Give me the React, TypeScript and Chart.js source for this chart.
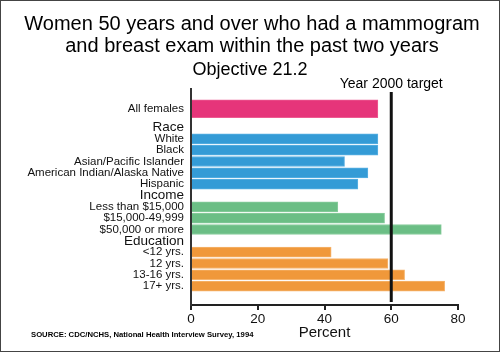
import React, { useEffect, useRef } from "react";
import { Chart, registerables } from "chart.js";

Chart.register(...registerables);

// ---- Data ----
const titleLines = [
  "Women 50 years and over who had a mammogram",
  "and breast exam within the past two years",
];
const subtitle = "Objective 21.2";
const sourceNote = "SOURCE: CDC/NCHS, National Health Interview Survey, 1994";
const targetLabel = "Year 2000 target";
const targetValue = 60;
const xAxisTitle = "Percent";
const xTicks = [0, 20, 40, 60, 80];

const allLabel = "All females";
const allValue = 56;

const groupHeaders = ["Race", "Income", "Education"];
const raceLabels = [
  "White",
  "Black",
  "Asian/Pacific Islander",
  "American Indian/Alaska Native",
  "Hispanic",
];
const raceValues = [56, 56, 46, 53, 50];
const incomeLabels = ["Less than $15,000", "$15,000-49,999", "$50,000 or more"];
const incomeValues = [44, 58, 75];
const educationLabels = ["<12 yrs.", "12 yrs.", "13-16 yrs.", "17+ yrs."];
const educationValues = [42, 59, 64, 76];

// ---- Styling ----
const FONT = "'Liberation Sans', Arial, Helvetica, sans-serif";
const colorAll = "#E6357A";
const colorAllBorder = "#EC5C92";
const groupColors = ["#349BD6", "#6BBE85", "#F0983A"];
const groupBorders = ["#5AB0E2", "#8ACD9E", "#F5B46E"];

export default function App() {
  const canvasRef = useRef<HTMLCanvasElement | null>(null);

  useEffect(() => {
    const canvas = canvasRef.current;
    if (!canvas) return;

    // Build row layout (row units) from the group structure
    const groupLabels = [raceLabels, incomeLabels, educationLabels];
    const groupValues = [raceValues, incomeValues, educationValues];
    const ALL_ROW = -1.65;
    const rowPositions: number[] = [ALL_ROW];
    const rowLabels: string[] = [allLabel];
    const headerIdx = new Set<number>();
    const groupData: { x: number; y: number }[] = [];
    const groupBg: string[] = [];
    const groupBd: string[] = [];
    let pos = 0;
    groupHeaders.forEach((h, gi) => {
      headerIdx.add(rowLabels.length);
      rowLabels.push(h);
      rowPositions.push(pos);
      pos += 1;
      groupLabels[gi].forEach((lab, li) => {
        rowLabels.push(lab);
        rowPositions.push(pos);
        groupData.push({ x: groupValues[gi][li], y: pos });
        groupBg.push(groupColors[gi]);
        groupBd.push(groupBorders[gi]);
        pos += 1;
      });
    });
    const yMin = ALL_ROW - 1.15;
    const yMax = pos - 1 + 1.07;

    const overlay = {
      id: "overlay",
      afterDraw(chart: any) {
        const ctx = chart.ctx;
        const xs = chart.scales.x;
        ctx.save();
        // target line
        const tx = xs.getPixelForValue(targetValue);
        ctx.strokeStyle = "#111";
        ctx.lineWidth = 3;
        ctx.beginPath();
        ctx.moveTo(tx, 92);
        ctx.lineTo(tx, 302);
        ctx.stroke();
        ctx.fillStyle = "#000";
        ctx.textAlign = "center";
        ctx.textBaseline = "middle";
        ctx.font = `14px ${FONT}`;
        ctx.fillText(targetLabel, tx, 84);
        // titles
        ctx.font = `20px ${FONT}`;
        ctx.fillText(titleLines[0], 252, 24);
        ctx.fillText(titleLines[1], 252, 46);
        ctx.font = `18px ${FONT}`;
        ctx.fillText(subtitle, 250, 70);
        // source
        ctx.textAlign = "left";
        ctx.font = `bold 7.7px ${FONT}`;
        ctx.fillText(sourceNote, 31, 335);
        // frame
        ctx.strokeStyle = "#444";
        ctx.lineWidth = 1;
        ctx.strokeRect(0.5, 0.5, 499, 351);
        ctx.restore();
      },
    };

    const chart = new Chart(canvas, {
      type: "bar",
      data: {
        datasets: [
          {
            data: [{ x: allValue, y: ALL_ROW }],
            backgroundColor: colorAll,
            borderColor: colorAllBorder,
            borderWidth: 1,
            barThickness: 18,
          },
          {
            data: groupData,
            backgroundColor: groupBg,
            borderColor: groupBd,
            borderWidth: 1,
            barThickness: 10,
          },
        ],
      },
      options: {
        indexAxis: "y",
        responsive: false,
        animation: false,
        devicePixelRatio: 1,
        grouped: false,
        layout: { padding: { top: 89, right: 42, left: 0, bottom: 0 } },
        plugins: {
          legend: { display: false },
          tooltip: { enabled: false },
          title: { display: false },
        },
        scales: {
          x: {
            type: "linear",
            min: xTicks[0],
            max: xTicks[xTicks.length - 1],
            afterBuildTicks: (scale: any) => {
              scale.ticks = xTicks.map((v) => ({ value: v }));
            },
            afterFit: (scale: any) => {
              scale.height = 48;
            },
            border: { display: true, color: "#222", width: 2 },
            grid: {
              drawOnChartArea: false,
              drawTicks: true,
              tickLength: 5,
              color: "#222",
              lineWidth: 2,
            },
            ticks: {
              color: "#111",
              font: { family: FONT, size: 13.5 },
              padding: 1,
              maxRotation: 0,
            },
            title: {
              display: true,
              text: xAxisTitle,
              color: "#111",
              font: { family: FONT, size: 15 },
              padding: { top: 0, bottom: 11 },
            },
          },
          y: {
            type: "linear",
            reverse: true,
            min: yMin,
            max: yMax,
            afterBuildTicks: (scale: any) => {
              scale.ticks = rowPositions.map((v) => ({ value: v }));
            },
            afterFit: (scale: any) => {
              scale.width = 191;
            },
            border: { display: true, color: "#333", width: 2 },
            grid: { display: false, drawTicks: false },
            ticks: {
              autoSkip: false,
              padding: 7,
              color: "#111",
              callback: (_v: any, i: number) => rowLabels[i],
              font: (c: any) =>
                headerIdx.has(c.index)
                  ? { family: FONT, size: 13.5 }
                  : { family: FONT, size: 11.5 },
            },
          },
        },
      },
      plugins: [overlay],
    } as any);

    return () => chart.destroy();
  }, []);

  return (
    <canvas
      ref={canvasRef}
      width={500}
      height={353}
      style={{ position: "absolute", left: 0, top: 0, width: 500, height: 353 }}
    />
  );
}
